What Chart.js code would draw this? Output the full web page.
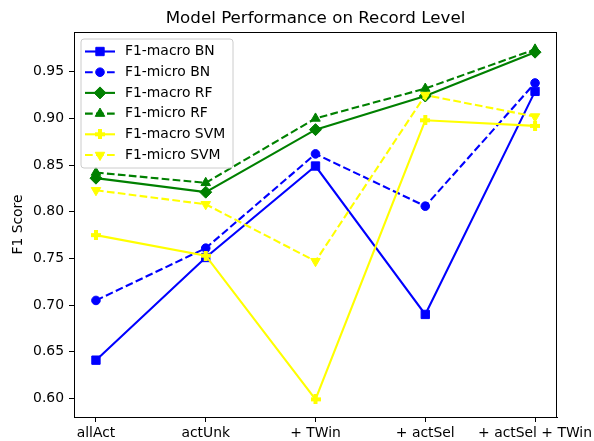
<!DOCTYPE html>
<html>
<head>
<meta charset="utf-8">
<title>Model Performance on Record Level</title>
<script src="https://cdn.jsdelivr.net/npm/chart.js"></script>
<style>
  html, body { margin: 0; padding: 0; background: #fff; }
  #wrap { width: 594px; height: 441px; }
</style>
</head>
<body>
<div id="wrap"><canvas id="perfChart" width="594" height="441"></canvas></div>
<script>
// data
const categories = ['allAct', 'actUnk', '+ TWin', '+ actSel', '+ actSel + TWin'];
const f1MacroBN  = [0.641, 0.751, 0.849, 0.690, 0.929];
const f1MicroBN  = [0.705, 0.761, 0.862, 0.806, 0.938];
const f1MacroRF  = [0.836, 0.821, 0.888, 0.924, 0.971];
const f1MicroRF  = [0.842, 0.831, 0.900, 0.932, 0.974];
const f1MacroSVM = [0.775, 0.753, 0.599, 0.898, 0.892];
const f1MicroSVM = [0.823, 0.808, 0.747, 0.925, 0.902];
const yTicks = [0.60, 0.65, 0.70, 0.75, 0.80, 0.85, 0.90, 0.95];

const FONT = 'DejaVu Sans';

// filled plus marker ('P' in matplotlib)
function plusMarker(color) {
  const c = document.createElement('canvas');
  c.width = 10; c.height = 10;
  const g = c.getContext('2d');
  g.fillStyle = color;
  g.fillRect(3, 0, 4, 10);
  g.fillRect(0, 3, 10, 4);
  return c;
}

function series(label, values, color, dashed, style, radius, rotation) {
  return {
    label: label,
    data: values.map((v, i) => ({ x: i, y: v })),
    borderColor: color,
    backgroundColor: color,
    borderWidth: 2.1,
    borderDash: dashed ? [7.7, 3.3] : [],
    pointStyle: style,
    pointRadius: radius,
    pointRotation: rotation || 0,
    pointBackgroundColor: color,
    pointBorderColor: color,
    pointBorderWidth: 1,
    tension: 0,
    fill: false
  };
}

const datasets = [
  series('F1-macro BN', f1MacroBN, '#0000ff', false, 'rect', 5.9),
  series('F1-micro BN', f1MicroBN, '#0000ff', true, 'circle', 4.3),
  series('F1-macro RF', f1MacroRF, '#008000', false, 'rectRot', 6),
  series('F1-micro RF', f1MicroRF, '#008000', true, 'triangle', 5.5),
  series('F1-macro SVM', f1MacroSVM, '#ffff00', false, plusMarker('#ffff00'), 5),
  series('F1-micro SVM', f1MicroSVM, '#ffff00', true, 'triangle', 5.5, 180)
];
// later series on top, like matplotlib
datasets.forEach((d, i) => { d.order = datasets.length - i; });

// title centred over the plot area
const titlePlugin = {
  id: 'plotTitle',
  afterDraw(chart) {
    const ctx = chart.ctx, a = chart.chartArea;
    ctx.save();
    ctx.font = '16.7px "' + FONT + '"';
    ctx.fillStyle = '#000';
    ctx.textAlign = 'center';
    ctx.textBaseline = 'middle';
    ctx.fillText('Model Performance on Record Level', (a.left + a.right) / 2, 19);
    ctx.restore();
  }
};

// top and right spines
const framePlugin = {
  id: 'frame',
  afterDatasetsDraw(chart) {
    const ctx = chart.ctx, a = chart.chartArea;
    ctx.save();
    ctx.strokeStyle = '#000';
    ctx.lineWidth = 1;
    ctx.strokeRect(a.left + 0.5, a.top + 0.5, a.right - a.left - 1, a.bottom - a.top);
    ctx.restore();
  }
};

// matplotlib style legend in the upper left
const legendPlugin = {
  id: 'mplLegend',
  afterDraw(chart) {
    const ctx = chart.ctx, a = chart.chartArea;
    const x0 = a.left + 7, y0 = a.top + 7, w = 152, h = 129, rowH = 20.7, r = 3;
    ctx.save();
    ctx.beginPath();
    ctx.moveTo(x0 + r, y0);
    ctx.arcTo(x0 + w, y0, x0 + w, y0 + h, r);
    ctx.arcTo(x0 + w, y0 + h, x0, y0 + h, r);
    ctx.arcTo(x0, y0 + h, x0, y0, r);
    ctx.arcTo(x0, y0, x0 + w, y0, r);
    ctx.closePath();
    ctx.fillStyle = 'rgba(255,255,255,0.8)';
    ctx.fill();
    ctx.strokeStyle = '#cccccc';
    ctx.lineWidth = 1;
    ctx.stroke();

    chart.data.datasets.forEach((ds, i) => {
      const cy = y0 + 12.5 + i * rowH;
      ctx.strokeStyle = ds.borderColor;
      ctx.lineWidth = ds.borderWidth;
      ctx.setLineDash(ds.borderDash);
      ctx.beginPath();
      ctx.moveTo(x0 + 4, cy);
      ctx.lineTo(x0 + 34, cy);
      ctx.stroke();
      ctx.setLineDash([]);
      ctx.fillStyle = ds.pointBackgroundColor;
      ctx.strokeStyle = ds.pointBorderColor;
      ctx.lineWidth = 1;
      Chart.helpers.drawPoint(ctx, {
        pointStyle: ds.pointStyle,
        radius: ds.pointRadius,
        rotation: ds.pointRotation,
        borderWidth: 1
      }, x0 + 19, cy);
      ctx.fillStyle = '#000';
      ctx.font = '13.9px "' + FONT + '"';
      ctx.textAlign = 'left';
      ctx.textBaseline = 'middle';
      ctx.fillText(ds.label, x0 + 44, cy);
    });
    ctx.restore();
  }
};

const ctx = document.getElementById('perfChart').getContext('2d');
const perfChart = new Chart(ctx, {
  type: 'line',
  data: { datasets: datasets },
  options: {
    responsive: false,
    animation: false,
    events: [],
    layout: { padding: { top: 32, right: 37, left: 0, bottom: 0 } },
    plugins: {
      legend: { display: false },
      title: { display: false },
      tooltip: { enabled: false }
    },
    scales: {
      x: {
        type: 'linear',
        min: -0.2,
        max: 4.2,
        afterBuildTicks: scale => { scale.ticks = categories.map((c, i) => ({ value: i })); },
        afterFit: scale => { scale.height = 24; scale.paddingLeft = 0; scale.paddingRight = 0; },
        ticks: {
          autoSkip: false,
          maxRotation: 0,
          padding: 3,
          color: '#000',
          font: { family: FONT, size: 13.9 },
          callback: v => categories[v]
        },
        grid: { drawOnChartArea: false, tickLength: 5, tickColor: '#000', tickWidth: 1 },
        border: { display: true, color: '#000', width: 1 }
      },
      y: {
        min: 0.5801,
        max: 0.9926,
        afterBuildTicks: scale => { scale.ticks = yTicks.map(v => ({ value: v })); },
        afterFit: scale => { scale.width = 74; scale.paddingTop = 0; scale.paddingBottom = 0; },
        ticks: {
          padding: 5,
          color: '#000',
          font: { family: FONT, size: 13.9 },
          callback: v => v.toFixed(2)
        },
        grid: { drawOnChartArea: false, tickLength: 5, tickColor: '#000', tickWidth: 1 },
        border: { display: true, color: '#000', width: 1 },
        title: {
          display: true,
          text: 'F1 Score',
          color: '#000',
          font: { family: FONT, size: 13.9 },
          padding: { top: 10, bottom: 0 }
        }
      }
    }
  },
  plugins: [framePlugin, legendPlugin, titlePlugin]
});
</script>
</body>
</html>
